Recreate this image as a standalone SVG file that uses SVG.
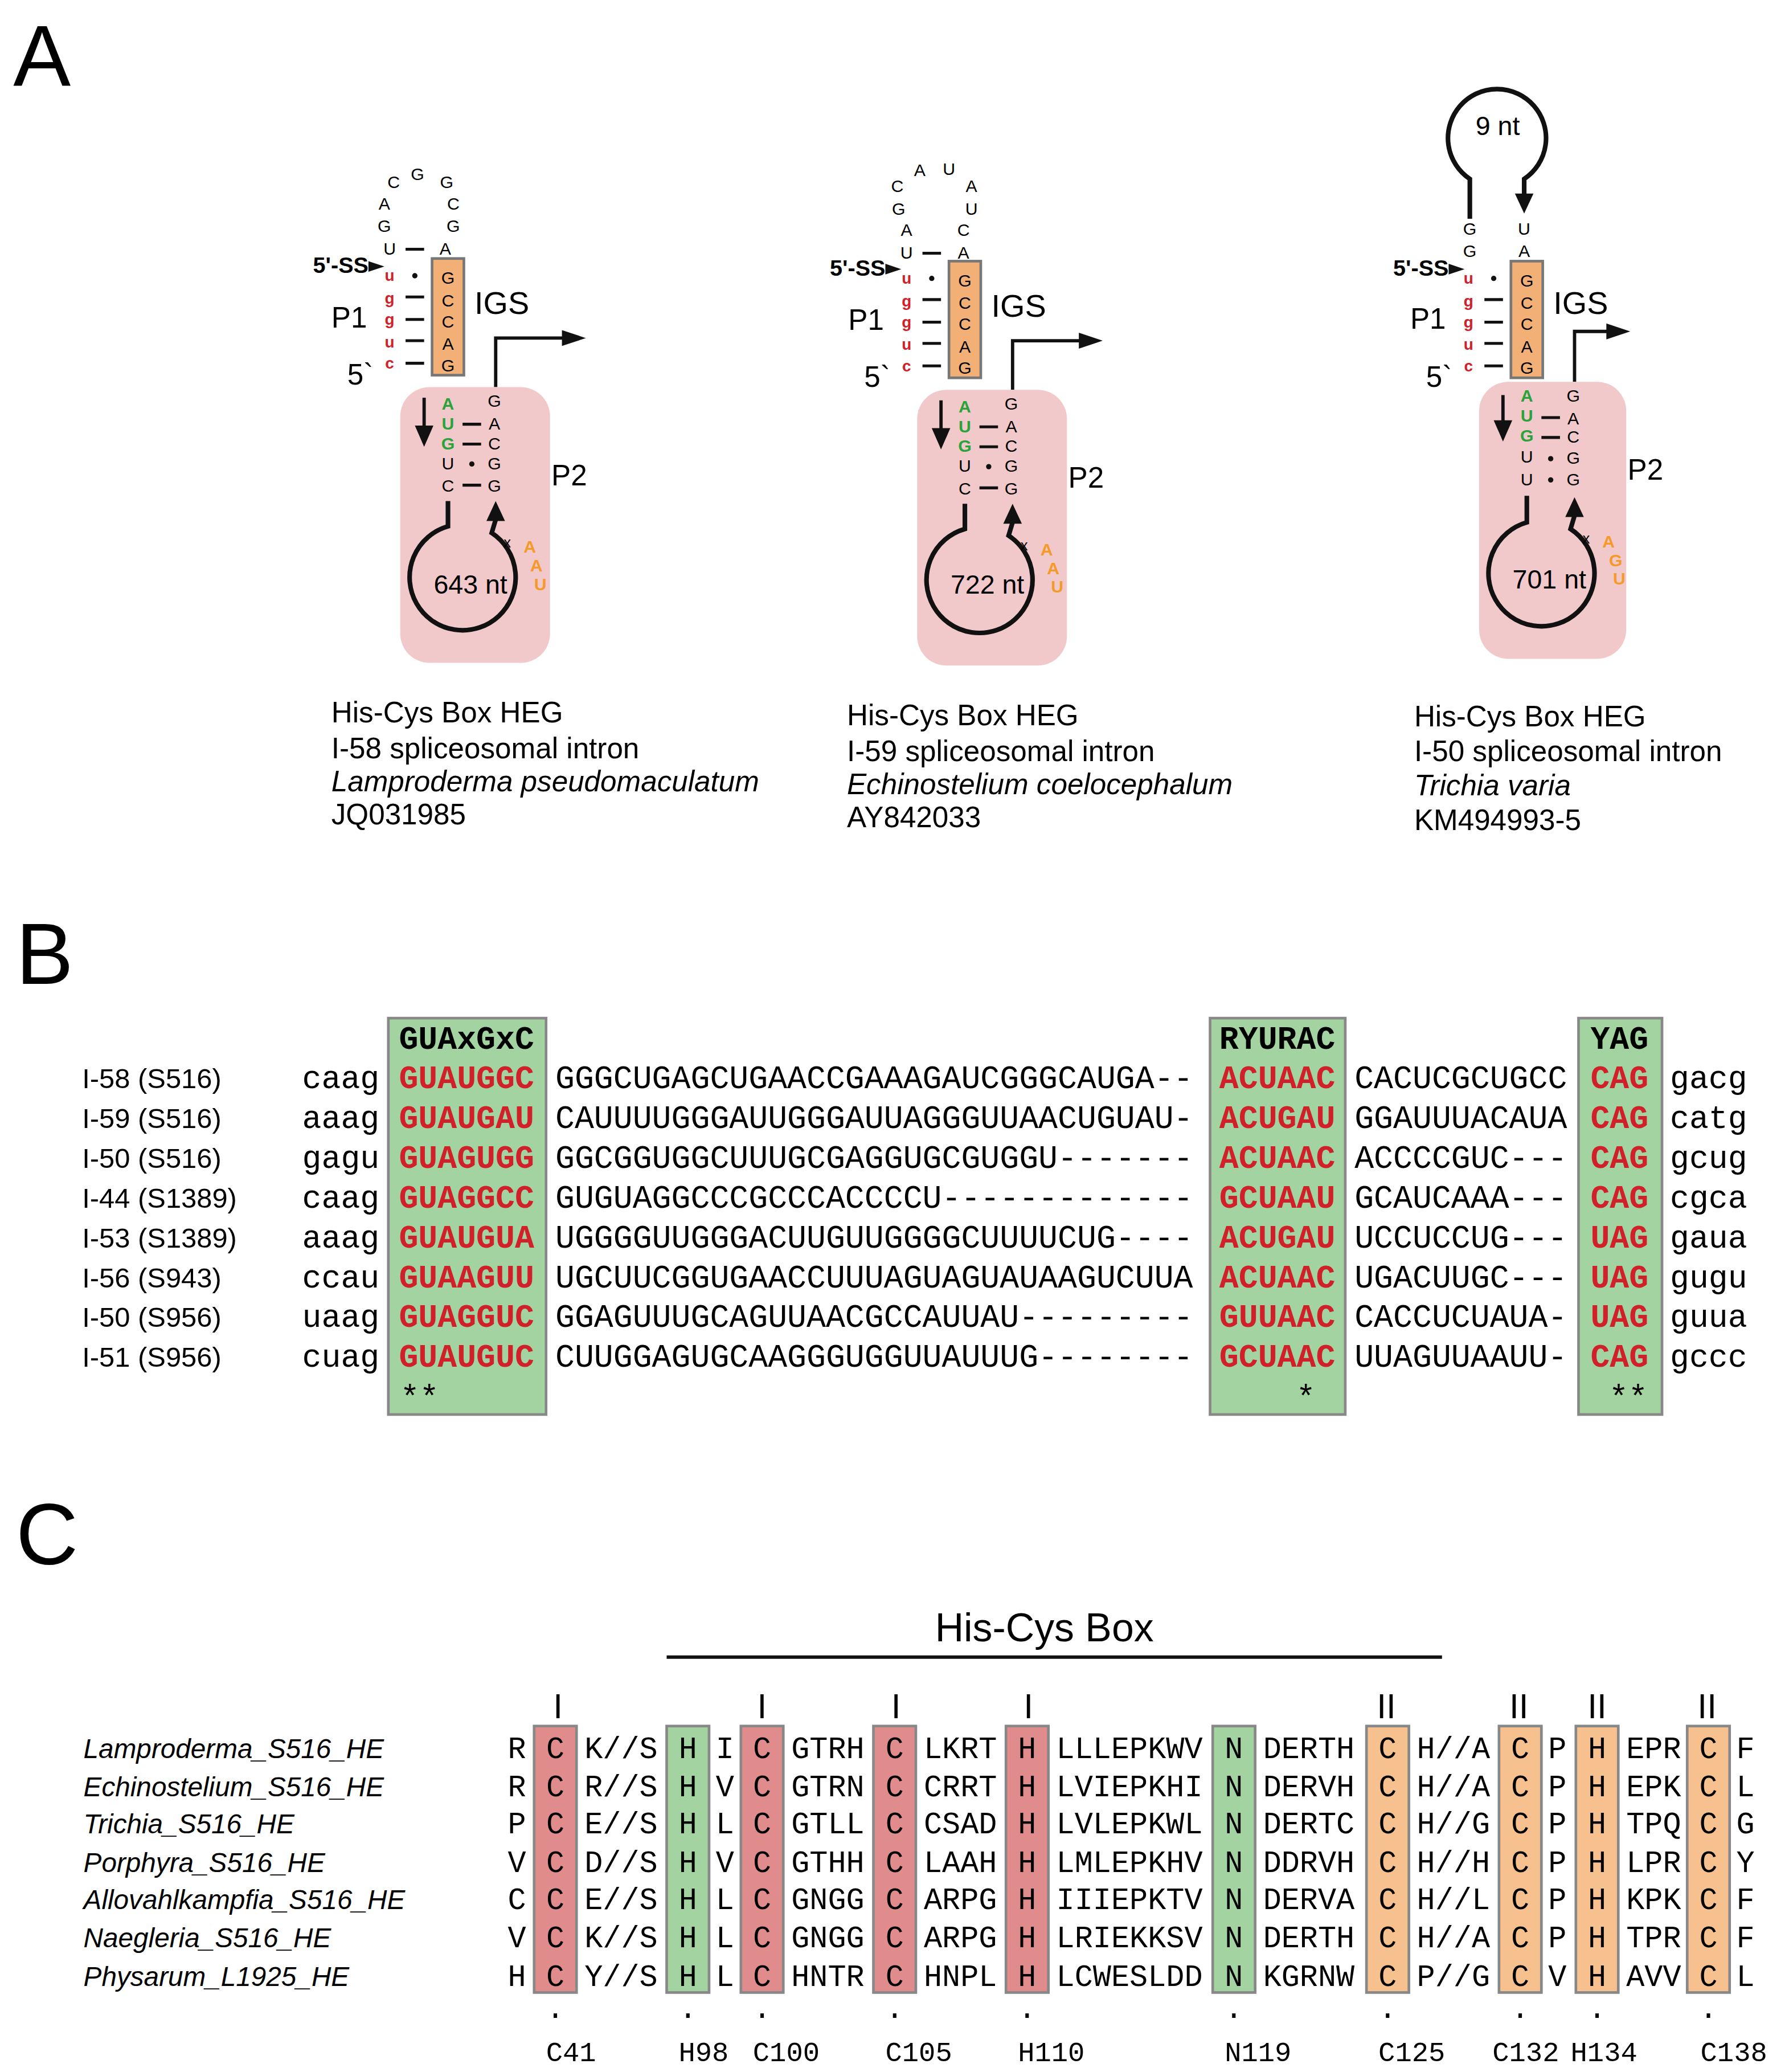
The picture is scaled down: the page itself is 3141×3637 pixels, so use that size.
<svg xmlns="http://www.w3.org/2000/svg" width="3141" height="3637" viewBox="0 0 3141 3637">
<style>
.s{font-family:"Liberation Sans",Arial,sans-serif}
.m{font-family:"Liberation Mono","Courier New",monospace}
.nt{font-family:"Liberation Sans",Arial,sans-serif;font-size:13px;text-anchor:middle}
.rd{fill:#d0202a;font-size:12px;font-weight:bold}
.gr{fill:#2aa33a;font-weight:bold}
.or{fill:#f39a2a;font-weight:bold;font-family:"Liberation Sans",Arial,sans-serif;font-size:13px}
.bar{stroke:#111;stroke-width:2.2}
.lp{fill:none;stroke:#111;stroke-width:3.5}
.big{font-family:"Liberation Sans",Arial,sans-serif;font-size:22px}
.cap{font-family:"Liberation Sans",Arial,sans-serif;font-size:22px}
.ss{font-family:"Liberation Sans",Arial,sans-serif;font-size:17px;font-weight:bold;text-anchor:end}
.pink{fill:#f2c9cb}
.igs{fill:#f2b077;stroke:#777;stroke-width:2}
.gbox{fill:#a3d3a0;stroke:#888;stroke-width:2}
.rbox{fill:#e08c8c;stroke:#888;stroke-width:2}
.obox{fill:#f7c08f;stroke:#888;stroke-width:2}
.sq{font-family:"Liberation Mono","Courier New",monospace;font-size:24.3px}
.red{fill:#d0202a;font-weight:bold}
.lab{font-family:"Liberation Sans",Arial,sans-serif;font-size:21px}
.cm{font-family:"Liberation Mono","Courier New",monospace;font-size:23px}
.ctr{text-anchor:middle}
.it{font-family:"Liberation Sans",Arial,sans-serif;font-size:20.5px;font-style:italic}
</style>
<rect width="3141" height="3637" fill="#fff"/>
<g transform="scale(2.327)">
<text class="s" x="10" y="65" font-size="65">A</text>
<text class="s" x="12" y="742" font-size="65">B</text>
<text class="s" x="12" y="1180" font-size="65">C</text>

<g id="struct1">
<g class="nt"><text x="297" y="142">C</text><text x="315" y="136">G</text><text x="337" y="142">G</text><text x="290" y="158">A</text><text x="342" y="158">C</text><text x="290" y="175">G</text><text x="342" y="175">G</text><text x="294" y="192">U</text><text x="336" y="192">A</text></g>
<line class="bar" x1="306" y1="188" x2="320" y2="188"/>
<text class="ss" x="278" y="206">5'-SS</text>
<polygon points="278,197 290,201 278,205" fill="#111"/>
<g class="nt rd"><text x="294" y="212">u</text><text x="294" y="229">g</text><text x="294" y="245">g</text><text x="294" y="262">u</text><text x="294" y="278">c</text></g>
<circle cx="313" cy="208" r="2" fill="#111"/>
<line class="bar" x1="306" y1="224" x2="320" y2="224"/><line class="bar" x1="306" y1="241" x2="320" y2="241"/><line class="bar" x1="306" y1="257" x2="320" y2="257"/><line class="bar" x1="306" y1="274" x2="320" y2="274"/>
<rect class="igs" x="326" y="195" width="24" height="88"/>
<g class="nt" font-size="14"><text x="338" y="214">G</text><text x="338" y="231">C</text><text x="338" y="247">C</text><text x="338" y="264">A</text><text x="338" y="280">G</text></g>
<text class="big" x="250" y="247">P1</text><text class="s" x="358" y="237" font-size="24">IGS</text><text class="big" x="262" y="290">5`</text>
<polyline points="374,292 374,255 426,255" fill="none" stroke="#111" stroke-width="2.5"/><polygon points="424,249 442,255 424,261" fill="#111"/>
<rect class="pink" x="302" y="292" width="113" height="208" rx="22"/>
<g class="nt"><text class="gr" x="338" y="309">A</text><text class="gr" x="338" y="324">U</text><text class="gr" x="338" y="339">G</text><text x="338" y="354">U</text><text x="338" y="371">C</text>
<text x="373" y="307">G</text><text x="373" y="324">A</text><text x="373" y="339">C</text><text x="373" y="354">G</text><text x="373" y="371">G</text></g>
<line class="bar" x1="349" y1="320" x2="363" y2="320"/><line class="bar" x1="349" y1="335" x2="363" y2="335"/><circle cx="356" cy="350" r="2" fill="#111"/><line class="bar" x1="349" y1="366" x2="363" y2="366"/>
<line x1="320" y1="300" x2="320" y2="325" stroke="#111" stroke-width="2.5"/><polygon points="313,321 327,321 320,337" fill="#111"/>
<path class="lp" d="M338,378 V397 A40 40 0 1 0 371,402 L374,392"/><polygon points="367,393 381,393 374,378" fill="#111"/>
<text class="s" x="380" y="413" font-size="11">x</text>
<text class="or" x="395" y="417">A</text><text class="or" x="400" y="431">A</text><text class="or" x="403" y="445">U</text>
<text class="s" x="355" y="448" font-size="20" text-anchor="middle">643 nt</text>
<text class="big" x="416" y="366">P2</text>
<text class="cap" x="250" y="545">His-Cys Box HEG</text><text class="cap" x="250" y="572">I-58 spliceosomal intron</text><text class="cap" x="250" y="597" font-style="italic">Lamproderma pseudomaculatum</text><text class="cap" x="250" y="622">JQ031985</text>
</g>

<g id="struct2" transform="translate(390,2)">
<g class="nt"><text x="287" y="143">C</text><text x="304" y="131">A</text><text x="326" y="130">U</text><text x="343" y="143">A</text><text x="288" y="160">G</text><text x="343" y="160">U</text><text x="294" y="176">A</text><text x="337" y="176">C</text><text x="294" y="193">U</text><text x="337" y="193">A</text></g>
<line class="bar" x1="306" y1="189" x2="320" y2="189"/>
<text class="ss" x="278" y="206">5'-SS</text>
<polygon points="278,197 290,201 278,205" fill="#111"/>
<g class="nt rd"><text x="294" y="212">u</text><text x="294" y="229">g</text><text x="294" y="245">g</text><text x="294" y="262">u</text><text x="294" y="278">c</text></g>
<circle cx="313" cy="208" r="2" fill="#111"/>
<line class="bar" x1="306" y1="224" x2="320" y2="224"/><line class="bar" x1="306" y1="241" x2="320" y2="241"/><line class="bar" x1="306" y1="257" x2="320" y2="257"/><line class="bar" x1="306" y1="274" x2="320" y2="274"/>
<rect class="igs" x="326" y="195" width="24" height="88"/>
<g class="nt" font-size="14"><text x="338" y="214">G</text><text x="338" y="231">C</text><text x="338" y="247">C</text><text x="338" y="264">A</text><text x="338" y="280">G</text></g>
<text class="big" x="250" y="247">P1</text><text class="s" x="358" y="237" font-size="24">IGS</text><text class="big" x="262" y="290">5`</text>
<polyline points="374,292 374,255 426,255" fill="none" stroke="#111" stroke-width="2.5"/><polygon points="424,249 442,255 424,261" fill="#111"/>
<rect class="pink" x="302" y="292" width="113" height="208" rx="22"/>
<g class="nt"><text class="gr" x="338" y="309">A</text><text class="gr" x="338" y="324">U</text><text class="gr" x="338" y="339">G</text><text x="338" y="354">U</text><text x="338" y="371">C</text>
<text x="373" y="307">G</text><text x="373" y="324">A</text><text x="373" y="339">C</text><text x="373" y="354">G</text><text x="373" y="371">G</text></g>
<line class="bar" x1="349" y1="320" x2="363" y2="320"/><line class="bar" x1="349" y1="335" x2="363" y2="335"/><circle cx="356" cy="350" r="2" fill="#111"/><line class="bar" x1="349" y1="366" x2="363" y2="366"/>
<line x1="320" y1="300" x2="320" y2="325" stroke="#111" stroke-width="2.5"/><polygon points="313,321 327,321 320,337" fill="#111"/>
<path class="lp" d="M338,378 V397 A40 40 0 1 0 371,402 L374,392"/><polygon points="367,393 381,393 374,378" fill="#111"/>
<text class="s" x="380" y="413" font-size="11">x</text>
<text class="or" x="395" y="417">A</text><text class="or" x="400" y="431">A</text><text class="or" x="403" y="445">U</text>
<text class="s" x="355" y="446" font-size="20" text-anchor="middle">722 nt</text>
<text class="big" x="416" y="366">P2</text>
<text class="cap" x="249" y="545">His-Cys Box HEG</text><text class="cap" x="249" y="572">I-59 spliceosomal intron</text><text class="cap" x="249" y="597" font-style="italic">Echinostelium coelocephalum</text><text class="cap" x="249" y="622">AY842033</text>
</g>

<g id="struct3" transform="translate(814,0)">
<path class="lp" d="M295,165 V135 A37 37 0 1 1 336,135 V148"/><polygon points="329,146 343,146 336,161" fill="#111"/>
<text class="s" x="316" y="102" font-size="20" text-anchor="middle">9 nt</text>
<g class="nt"><text x="295" y="177">G</text><text x="295" y="194">G</text><text x="336" y="177">U</text><text x="336" y="194">A</text></g>
<text class="ss" x="279" y="208">5'-SS</text>
<polygon points="279,199 291,203 279,207" fill="#111"/>
<g class="nt rd"><text x="294" y="214">u</text><text x="294" y="231">g</text><text x="294" y="247">g</text><text x="294" y="264">u</text><text x="294" y="280">c</text></g>
<circle cx="313" cy="210" r="2" fill="#111"/>
<line class="bar" x1="306" y1="226" x2="320" y2="226"/><line class="bar" x1="306" y1="243" x2="320" y2="243"/><line class="bar" x1="306" y1="259" x2="320" y2="259"/><line class="bar" x1="306" y1="276" x2="320" y2="276"/>
<rect class="igs" x="326" y="197" width="24" height="88"/>
<g class="nt" font-size="14"><text x="338" y="216">G</text><text x="338" y="233">C</text><text x="338" y="249">C</text><text x="338" y="266">A</text><text x="338" y="282">G</text></g>
<text class="big" x="250" y="248">P1</text><text class="s" x="358" y="237" font-size="24">IGS</text><text class="big" x="262" y="292">5`</text>
<polyline points="374,288 374,250 400,250" fill="none" stroke="#111" stroke-width="2.5"/><polygon points="398,244 416,250 398,256" fill="#111"/>
<rect class="pink" x="302" y="288" width="111" height="209" rx="22"/>
<g class="nt"><text class="gr" x="338" y="303">A</text><text class="gr" x="338" y="318">U</text><text class="gr" x="338" y="333">G</text><text x="338" y="349">U</text><text x="338" y="366">U</text>
<text x="373" y="303">G</text><text x="373" y="320">A</text><text x="373" y="334">C</text><text x="373" y="350">G</text><text x="373" y="366">G</text></g>
<line class="bar" x1="349" y1="315" x2="363" y2="315"/><line class="bar" x1="349" y1="330" x2="363" y2="330"/><circle cx="356" cy="346" r="2" fill="#111"/><circle cx="356" cy="362" r="2" fill="#111"/>
<line x1="320" y1="298" x2="320" y2="321" stroke="#111" stroke-width="2.5"/><polygon points="313,317 327,317 320,333" fill="#111"/>
<path class="lp" d="M338,374 V394 A40 40 0 1 0 371,399 L374,389"/><polygon points="367,390 381,390 374,375" fill="#111"/>
<text class="s" x="380" y="410" font-size="11">x</text>
<text class="or" x="395" y="413">A</text><text class="or" x="400" y="427">G</text><text class="or" x="403" y="441">U</text>
<text class="s" x="355" y="444" font-size="20" text-anchor="middle">701 nt</text>
<text class="big" x="414" y="362">P2</text>
<text class="cap" x="253" y="548">His-Cys Box HEG</text><text class="cap" x="253" y="574">I-50 spliceosomal intron</text><text class="cap" x="253" y="600" font-style="italic">Trichia varia</text><text class="cap" x="253" y="626">KM494993-5</text>
</g>

<g id="panelB">
<rect class="gbox" x="293" y="768" width="119" height="299"/>
<rect class="gbox" x="913" y="768" width="102" height="299"/>
<rect class="gbox" x="1191" y="768" width="63" height="299"/>
<g class="sq" font-weight="bold"><text x="301" y="791">GUAxGxC</text><text x="920" y="791">RYURAC</text><text x="1200" y="791">YAG</text></g>
<g class="lab"><text x="62" y="821">I-58 (S516)</text><text x="62" y="851">I-59 (S516)</text><text x="62" y="881">I-50 (S516)</text><text x="62" y="911">I-44 (S1389)</text><text x="62" y="941">I-53 (S1389)</text><text x="62" y="971">I-56 (S943)</text><text x="62" y="1001">I-50 (S956)</text><text x="62" y="1031">I-51 (S956)</text></g>
<g class="sq">
<text x="228" y="821">caag</text><text x="228" y="851">aaag</text><text x="228" y="881">gagu</text><text x="228" y="911">caag</text><text x="228" y="941">aaag</text><text x="228" y="971">ccau</text><text x="228" y="1001">uaag</text><text x="228" y="1031">cuag</text>
<g class="red"><text x="301" y="821">GUAUGGC</text><text x="301" y="851">GUAUGAU</text><text x="301" y="881">GUAGUGG</text><text x="301" y="911">GUAGGCC</text><text x="301" y="941">GUAUGUA</text><text x="301" y="971">GUAAGUU</text><text x="301" y="1001">GUAGGUC</text><text x="301" y="1031">GUAUGUC</text></g>
<text x="419" y="821">GGGCUGAGCUGAACCGAAAGAUCGGGCAUGA--</text>
<text x="419" y="851">CAUUUUGGGAUUGGGAUUAGGGUUAACUGUAU-</text>
<text x="419" y="881">GGCGGUGGCUUUGCGAGGUGCGUGGU-------</text>
<text x="419" y="911">GUGUAGGCCCGCCCACCCCU-------------</text>
<text x="419" y="941">UGGGGUUGGGACUUGUUGGGGCUUUUCUG----</text>
<text x="419" y="971">UGCUUCGGUGAACCUUUAGUAGUAUAAGUCUUA</text>
<text x="419" y="1001">GGAGUUUGCAGUUAACGCCAUUAU---------</text>
<text x="419" y="1031">CUUGGAGUGCAAGGGUGGUUAUUUG--------</text>
<g class="red"><text x="920" y="821">ACUAAC</text><text x="920" y="851">ACUGAU</text><text x="920" y="881">ACUAAC</text><text x="920" y="911">GCUAAU</text><text x="920" y="941">ACUGAU</text><text x="920" y="971">ACUAAC</text><text x="920" y="1001">GUUAAC</text><text x="920" y="1031">GCUAAC</text></g>
<text x="1022" y="821">CACUCGCUGCC</text><text x="1022" y="851">GGAUUUACAUA</text><text x="1022" y="881">ACCCCGUC---</text><text x="1022" y="911">GCAUCAAA---</text><text x="1022" y="941">UCCUCCUG---</text><text x="1022" y="971">UGACUUGC---</text><text x="1022" y="1001">CACCUCUAUA-</text><text x="1022" y="1031">UUAGUUAAUU-</text>
<g class="red"><text x="1200" y="821">CAG</text><text x="1200" y="851">CAG</text><text x="1200" y="881">CAG</text><text x="1200" y="911">CAG</text><text x="1200" y="941">UAG</text><text x="1200" y="971">UAG</text><text x="1200" y="1001">UAG</text><text x="1200" y="1031">CAG</text></g>
<text x="1260" y="821">gacg</text><text x="1260" y="851">catg</text><text x="1260" y="881">gcug</text><text x="1260" y="911">cgca</text><text x="1260" y="941">gaua</text><text x="1260" y="971">gugu</text><text x="1260" y="1001">guua</text><text x="1260" y="1031">gccc</text>
<text x="302" y="1062">**</text><text x="978" y="1062">*</text><text x="1214" y="1062">**</text>
</g>
</g>

<g id="panelC">
<text class="s ctr" x="788" y="1238" font-size="30">His-Cys Box</text>
<line x1="503" y1="1250" x2="1088" y2="1250" stroke="#111" stroke-width="2.5"/>
<g class="s ctr" font-size="26"><text x="421" y="1296">I</text><text x="575" y="1296">I</text><text x="676" y="1296">I</text><text x="776" y="1296">I</text><text x="1046" y="1296">II</text><text x="1146" y="1296">II</text><text x="1205" y="1296">II</text><text x="1288" y="1296">II</text></g>
<rect class="rbox" x="403" y="1302" width="32" height="201"/>
<rect class="gbox" x="503" y="1302" width="32" height="201"/>
<rect class="rbox" x="559" y="1302" width="32" height="201"/>
<rect class="rbox" x="659" y="1302" width="32" height="201"/>
<rect class="rbox" x="759" y="1302" width="32" height="201"/>
<rect class="gbox" x="915" y="1302" width="32" height="201"/>
<rect class="obox" x="1031" y="1302" width="32" height="201"/>
<rect class="obox" x="1131" y="1302" width="32" height="201"/>
<rect class="obox" x="1189" y="1302" width="32" height="201"/>
<rect class="obox" x="1273" y="1302" width="32" height="201"/>
<g class="it"><text x="63" y="1326">Lamproderma_S516_HE</text><text x="63" y="1355">Echinostelium_S516_HE</text><text x="63" y="1383">Trichia_S516_HE</text><text x="63" y="1412">Porphyra_S516_HE</text><text x="63" y="1440">Allovahlkampfia_S516_HE</text><text x="63" y="1469">Naegleria_S516_HE</text><text x="63" y="1498">Physarum_L1925_HE</text></g>
<g class="cm">
<g class="ctr"><text x="390" y="1326">R</text><text x="390" y="1355">R</text><text x="390" y="1383">P</text><text x="390" y="1412">V</text><text x="390" y="1440">C</text><text x="390" y="1469">V</text><text x="390" y="1498">H</text></g>
<g class="ctr"><text x="419" y="1326">C</text><text x="419" y="1355">C</text><text x="419" y="1383">C</text><text x="419" y="1412">C</text><text x="419" y="1440">C</text><text x="419" y="1469">C</text><text x="419" y="1498">C</text></g>
<text x="441" y="1326">K//S</text><text x="441" y="1355">R//S</text><text x="441" y="1383">E//S</text><text x="441" y="1412">D//S</text><text x="441" y="1440">E//S</text><text x="441" y="1469">K//S</text><text x="441" y="1498">Y//S</text>
<g class="ctr"><text x="519" y="1326">H</text><text x="519" y="1355">H</text><text x="519" y="1383">H</text><text x="519" y="1412">H</text><text x="519" y="1440">H</text><text x="519" y="1469">H</text><text x="519" y="1498">H</text></g>
<g class="ctr"><text x="547" y="1326">I</text><text x="547" y="1355">V</text><text x="547" y="1383">L</text><text x="547" y="1412">V</text><text x="547" y="1440">L</text><text x="547" y="1469">L</text><text x="547" y="1498">L</text></g>
<g class="ctr"><text x="575" y="1326">C</text><text x="575" y="1355">C</text><text x="575" y="1383">C</text><text x="575" y="1412">C</text><text x="575" y="1440">C</text><text x="575" y="1469">C</text><text x="575" y="1498">C</text></g>
<text x="597" y="1326">GTRH</text><text x="597" y="1355">GTRN</text><text x="597" y="1383">GTLL</text><text x="597" y="1412">GTHH</text><text x="597" y="1440">GNGG</text><text x="597" y="1469">GNGG</text><text x="597" y="1498">HNTR</text>
<g class="ctr"><text x="675" y="1326">C</text><text x="675" y="1355">C</text><text x="675" y="1383">C</text><text x="675" y="1412">C</text><text x="675" y="1440">C</text><text x="675" y="1469">C</text><text x="675" y="1498">C</text></g>
<text x="697" y="1326">LKRT</text><text x="697" y="1355">CRRT</text><text x="697" y="1383">CSAD</text><text x="697" y="1412">LAAH</text><text x="697" y="1440">ARPG</text><text x="697" y="1469">ARPG</text><text x="697" y="1498">HNPL</text>
<g class="ctr"><text x="775" y="1326">H</text><text x="775" y="1355">H</text><text x="775" y="1383">H</text><text x="775" y="1412">H</text><text x="775" y="1440">H</text><text x="775" y="1469">H</text><text x="775" y="1498">H</text></g>
<text x="797" y="1326">LLLEPKWV</text><text x="797" y="1355">LVIEPKHI</text><text x="797" y="1383">LVLEPKWL</text><text x="797" y="1412">LMLEPKHV</text><text x="797" y="1440">IIIEPKTV</text><text x="797" y="1469">LRIEKKSV</text><text x="797" y="1498">LCWESLDD</text>
<g class="ctr"><text x="931" y="1326">N</text><text x="931" y="1355">N</text><text x="931" y="1383">N</text><text x="931" y="1412">N</text><text x="931" y="1440">N</text><text x="931" y="1469">N</text><text x="931" y="1498">N</text></g>
<text x="953" y="1326">DERTH</text><text x="953" y="1355">DERVH</text><text x="953" y="1383">DERTC</text><text x="953" y="1412">DDRVH</text><text x="953" y="1440">DERVA</text><text x="953" y="1469">DERTH</text><text x="953" y="1498">KGRNW</text>
<g class="ctr"><text x="1047" y="1326">C</text><text x="1047" y="1355">C</text><text x="1047" y="1383">C</text><text x="1047" y="1412">C</text><text x="1047" y="1440">C</text><text x="1047" y="1469">C</text><text x="1047" y="1498">C</text></g>
<text x="1069" y="1326">H//A</text><text x="1069" y="1355">H//A</text><text x="1069" y="1383">H//G</text><text x="1069" y="1412">H//H</text><text x="1069" y="1440">H//L</text><text x="1069" y="1469">H//A</text><text x="1069" y="1498">P//G</text>
<g class="ctr"><text x="1147" y="1326">C</text><text x="1147" y="1355">C</text><text x="1147" y="1383">C</text><text x="1147" y="1412">C</text><text x="1147" y="1440">C</text><text x="1147" y="1469">C</text><text x="1147" y="1498">C</text></g>
<g class="ctr"><text x="1175" y="1326">P</text><text x="1175" y="1355">P</text><text x="1175" y="1383">P</text><text x="1175" y="1412">P</text><text x="1175" y="1440">P</text><text x="1175" y="1469">P</text><text x="1175" y="1498">V</text></g>
<g class="ctr"><text x="1205" y="1326">H</text><text x="1205" y="1355">H</text><text x="1205" y="1383">H</text><text x="1205" y="1412">H</text><text x="1205" y="1440">H</text><text x="1205" y="1469">H</text><text x="1205" y="1498">H</text></g>
<text x="1227" y="1326">EPR</text><text x="1227" y="1355">EPK</text><text x="1227" y="1383">TPQ</text><text x="1227" y="1412">LPR</text><text x="1227" y="1440">KPK</text><text x="1227" y="1469">TPR</text><text x="1227" y="1498">AVV</text>
<g class="ctr"><text x="1289" y="1326">C</text><text x="1289" y="1355">C</text><text x="1289" y="1383">C</text><text x="1289" y="1412">C</text><text x="1289" y="1440">C</text><text x="1289" y="1469">C</text><text x="1289" y="1498">C</text></g>
<g class="ctr"><text x="1317" y="1326">F</text><text x="1317" y="1355">L</text><text x="1317" y="1383">G</text><text x="1317" y="1412">Y</text><text x="1317" y="1440">F</text><text x="1317" y="1469">F</text><text x="1317" y="1498">L</text></g>
<g class="ctr"><text x="419" y="1522">.</text><text x="519" y="1522">.</text><text x="575" y="1522">.</text><text x="675" y="1522">.</text><text x="775" y="1522">.</text><text x="931" y="1522">.</text><text x="1047" y="1522">.</text><text x="1147" y="1522">.</text><text x="1205" y="1522">.</text><text x="1289" y="1522">.</text></g>
<g font-size="21"><text x="412" y="1555">C41</text><text x="512" y="1555">H98</text><text x="568" y="1555">C100</text><text x="668" y="1555">C105</text><text x="768" y="1555">H110</text><text x="924" y="1555">N119</text><text x="1040" y="1555">C125</text><text x="1126" y="1555">C132</text><text x="1185" y="1555">H134</text><text x="1283" y="1555">C138</text></g>
</g>
</g>
</g>
</svg>
